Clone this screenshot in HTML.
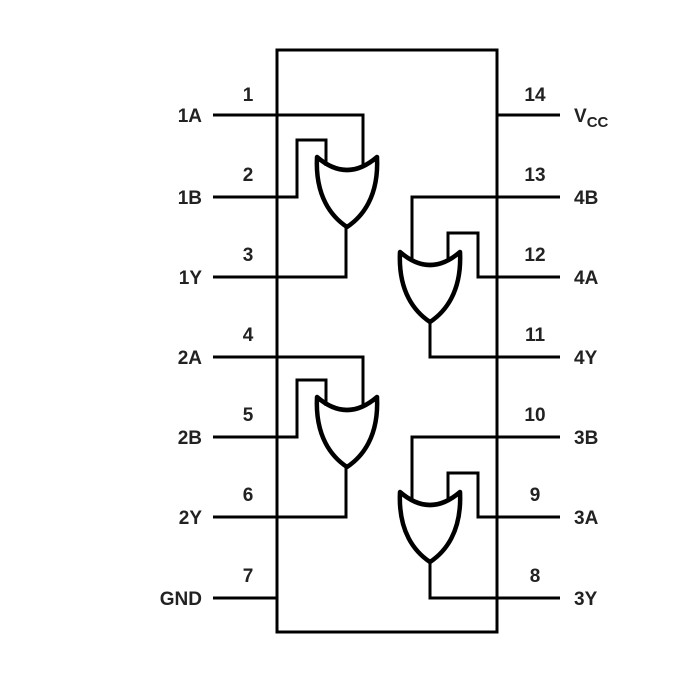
<!DOCTYPE html>
<html><head><style>
html,body{margin:0;padding:0;background:#fff;}
svg{display:block}
text{font-family:"Liberation Sans",Arial,sans-serif;font-size:19px;fill:#222;font-weight:bold;}
</style></head><body>
<svg width="700" height="700" viewBox="0 0 700 700" xmlns="http://www.w3.org/2000/svg">
<defs>
<g id="gate" fill="none" stroke="#000" stroke-width="4.5" stroke-linejoin="round">
<path d="M0 0 Q30 26 60 0 C62 40 45 60 30 70 C15 60 -2 40 0 0 Z"/>
</g>
</defs>
<rect x="277" y="50" width="220" height="582" fill="none" stroke="#000" stroke-width="3"/>
<g stroke="#000" stroke-width="3" fill="none">
<path d="M213 115H277M213 197H277M213 277H277M213 357H277M213 437H277M213 517H277M213 598H277"/>
<path d="M497 115H560M497 197H560M497 277H560M497 357H560M497 437H560M497 517H560M497 598H560"/>
<path d="M277 115H363V165M277 197H297V140H326V166M346 227V277H277"/>
<path d="M277 357H363V405M277 437H297V380H326V406M346 467V517H277"/>
<path d="M497 197H412V262M497 277H478V233H448V260M430 322V357H497"/>
<path d="M497 437H412V502M497 517H478V473H448V500M430 562V598H497"/>
</g>
<use href="#gate" x="317" y="157"/>
<use href="#gate" x="317" y="397"/>
<use href="#gate" x="400" y="252"/>
<use href="#gate" x="400" y="492"/>
<g text-anchor="middle">
<text x="248" y="101">1</text><text x="248" y="181">2</text><text x="248" y="261">3</text><text x="248" y="341">4</text><text x="248" y="421">5</text><text x="248" y="501">6</text><text x="248" y="582">7</text>
<text x="535" y="101">14</text><text x="535" y="181">13</text><text x="535" y="261">12</text><text x="535" y="341">11</text><text x="535" y="421">10</text><text x="535" y="501">9</text><text x="535" y="582">8</text>
</g>
<g text-anchor="end">
<text x="202" y="122">1A</text><text x="202" y="204">1B</text><text x="202" y="284">1Y</text><text x="202" y="364">2A</text><text x="202" y="444">2B</text><text x="202" y="524">2Y</text><text x="202" y="605">GND</text>
</g>
<g>
<text x="574" y="122">V<tspan font-size="15" dy="5">CC</tspan></text>
<text x="574" y="204">4B</text><text x="574" y="284">4A</text><text x="574" y="364">4Y</text><text x="574" y="444">3B</text><text x="574" y="524">3A</text><text x="574" y="605">3Y</text>
</g>
</svg>
</body></html>
